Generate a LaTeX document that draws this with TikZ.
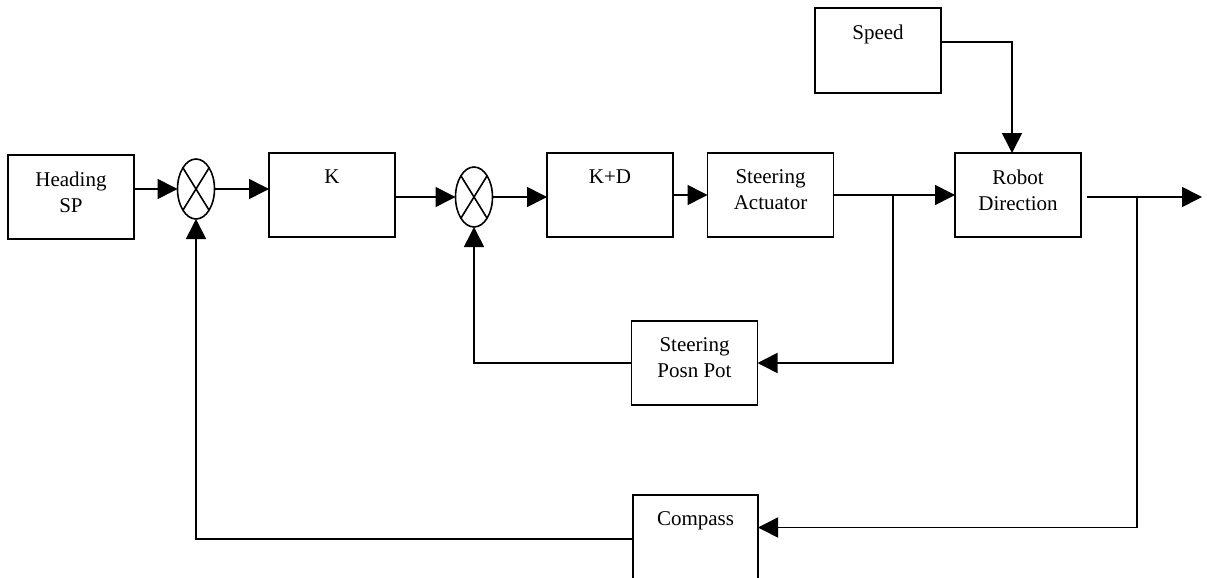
\documentclass[tikz,border=0pt]{standalone}
\usepackage{fontspec}
\setmainfont{Liberation Serif}
\usetikzlibrary{arrows.meta,shapes.geometric,calc}
\begin{document}
\begin{tikzpicture}[x=1pt,y=-1pt,
  blk/.style={draw,line width=1.6pt,minimum width=126pt,minimum height=84pt,inner sep=0pt,outer sep=0pt},
  summer/.style={draw,ellipse,line width=1.6pt,minimum width=37pt,minimum height=60pt,inner sep=0pt,outer sep=0pt},
  lbl/.style={anchor=north,inner sep=0pt,align=center,font=\fontsize{21pt}{26pt}\selectfont},
  conn/.style={line width=1.6pt},
  arr/.style={line width=1.6pt,-{Triangle[length=20pt,width=20pt]}}]
\useasboundingbox (0,0) rectangle (1207,578);
% blocks
\node[blk] (hsp) at (71,197) {};
\node[lbl] (hspT) at (71,171.7) {Heading\\SP};
\node[blk] (k) at (332,195) {};
\node[lbl] (kT) at (332,169.7) {K};
\node[blk] (kd) at (610,195) {};
\node[lbl] (kdT) at (610,169.7) {K+D};
\node[blk] (sa) at (770.5,195) {};
\node[lbl] (saT) at (770.5,169.7) {Steering\\Actuator};
\node[blk] (rd) at (1018,195) {};
\node[lbl] (rdT) at (1018,169.7) {Robot\\Direction};
\node[blk,minimum height=85pt] (sp) at (878,50.5) {};
\node[lbl] (spT) at (878,24.7) {Speed};
\node[blk] (pot) at (694.5,363) {};
\node[lbl] (potT) at (694.5,337.7) {Steering\\Posn Pot};
\node[blk,minimum width=125pt,minimum height=85pt] (cmp) at (695.5,537.5) {};
\node[lbl] (cmpT) at (695.5,511.7) {Compass};
% summing junctions
\node[summer] (c1) at (196,189) {};
\draw[conn] ($(c1.center)+(-13.1,-21.2)$) -- ($(c1.center)+(13.1,21.2)$);
\draw[conn] ($(c1.center)+(13.1,-21.2)$) -- ($(c1.center)+(-13.1,21.2)$);
\node[summer] (c2) at (474,197) {};
\draw[conn] ($(c2.center)+(-13.1,-21.2)$) -- ($(c2.center)+(13.1,21.2)$);
\draw[conn] ($(c2.center)+(13.1,-21.2)$) -- ($(c2.center)+(-13.1,21.2)$);
% junction points
\coordinate (j0) at (1012,42);
\coordinate (j1) at (893,195);
\coordinate (j2) at (1137,197);
\coordinate (out) at (1202,197);
% forward path
\draw[arr] (hsp.east |- c1) -- (c1.west);
\draw[arr] (c1.east) -- (k.west |- c1);
\draw[arr] (k.east |- c2) -- (c2.west);
\draw[arr] (c2.east) -- (kd.west |- c2);
\draw[arr] (kd.east) -- (sa.west);
\draw[arr] (sa.east) -- (rd.west);
\draw[arr] (sp.east |- j0) -- (j0) -- (j0 |- rd.north);
\draw[arr] ([xshift=6pt,yshift=-2pt]rd.east) -- (out);
% inner loop
\draw[arr] (j1) |- (pot.east);
\draw[arr] (pot.west) -| (c2.south);
% outer loop
\draw[arr] (j2) |- ([yshift=10pt]cmp.east);
\draw[arr] ([yshift=-1.5pt]cmp.west) -| (c1.south);
\end{tikzpicture}
\end{document}
